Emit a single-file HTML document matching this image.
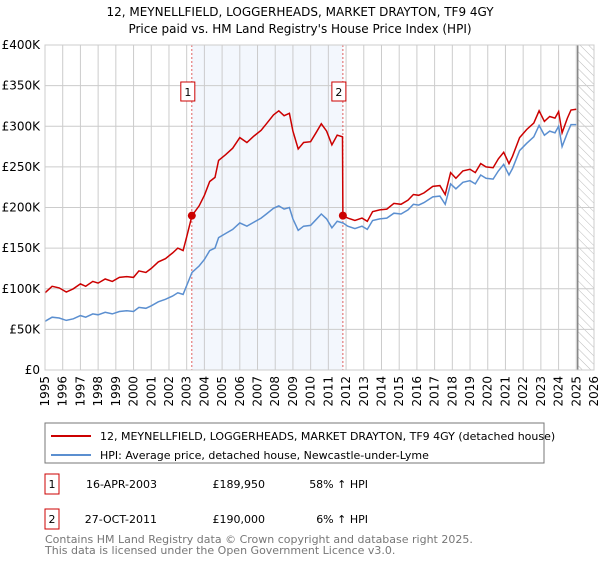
<!DOCTYPE html>
<html><head><meta charset="utf-8"><style>
body{margin:0;background:#fff;font-family:"Liberation Sans","DejaVu Sans",sans-serif;}
svg text{font-family:"DejaVu Sans","Liberation Sans",sans-serif;}
</style></head><body>
<svg id="chart" width="600" height="560" viewBox="0 0 600 560" xmlns="http://www.w3.org/2000/svg">
<defs><pattern id="hatch" width="6" height="6" patternUnits="userSpaceOnUse" patternTransform="rotate(-45)"><line x1="0" y1="0" x2="0" y2="6" stroke="#bbb" stroke-width="1"/></pattern></defs>
<text x="300" y="16" text-anchor="middle" font-size="12" fill="#000">12, MEYNELLFIELD, LOGGERHEADS, MARKET DRAYTON, TF9 4GY</text>
<text x="300" y="33" text-anchor="middle" font-size="12" fill="#000">Price paid vs. HM Land Registry's House Price Index (HPI)</text>
<g id="plot"></g>
<rect x="45" y="423" width="499" height="40" fill="#fff" stroke="#777"/>
<line x1="51" y1="436" x2="91" y2="436" stroke="#cc0000" stroke-width="2"/>
<text x="100" y="440" font-size="11">12, MEYNELLFIELD, LOGGERHEADS, MARKET DRAYTON, TF9 4GY (detached house)</text>
<line x1="51" y1="455" x2="91" y2="455" stroke="#5b8fd0" stroke-width="2"/>
<text x="100" y="459" font-size="11">HPI: Average price, detached house, Newcastle-under-Lyme</text>
<rect x="45" y="474" width="14" height="20" fill="#fff" stroke="#cc0000"/>
<text x="52" y="488" font-size="11" text-anchor="middle">1</text>
<text x="157" y="488" font-size="11" text-anchor="end">16-APR-2003</text>
<text x="265" y="488" font-size="11" text-anchor="end">£189,950</text>
<text x="368" y="488" font-size="11" text-anchor="end">58% ↑ HPI</text>
<rect x="45" y="509" width="14" height="20" fill="#fff" stroke="#cc0000"/>
<text x="52" y="523" font-size="11" text-anchor="middle">2</text>
<text x="157" y="523" font-size="11" text-anchor="end">27-OCT-2011</text>
<text x="265" y="523" font-size="11" text-anchor="end">£190,000</text>
<text x="368" y="523" font-size="11" text-anchor="end">6% ↑ HPI</text>
<text x="45" y="543" font-size="11" fill="#777">Contains HM Land Registry data © Crown copyright and database right 2025.</text>
<text x="45" y="554" font-size="11" fill="#777">This data is licensed under the Open Government Licence v3.0.</text>
</svg>
<script>
const dates=[1995.0,1995.4,1995.8,1996.2,1996.6,1997.0,1997.3,1997.7,1998.0,1998.4,1998.8,1999.2,1999.6,2000.0,2000.3,2000.7,2001.0,2001.4,2001.8,2002.2,2002.5,2002.8,2003.0,2003.3,2003.7,2004.0,2004.3,2004.6,2004.8,2005.2,2005.6,2006.0,2006.4,2006.8,2007.2,2007.5,2007.9,2008.2,2008.5,2008.8,2009.0,2009.3,2009.6,2010.0,2010.3,2010.6,2010.9,2011.2,2011.5,2011.8,2011.82,2012.1,2012.5,2012.9,2013.2,2013.5,2013.9,2014.3,2014.7,2015.1,2015.5,2015.8,2016.1,2016.4,2016.9,2017.3,2017.6,2017.9,2018.2,2018.6,2019.0,2019.3,2019.6,2019.9,2020.3,2020.6,2020.9,2021.2,2021.4,2021.8,2022.2,2022.6,2022.9,2023.2,2023.5,2023.8,2024.0,2024.2,2024.5,2024.7,2025.0];
const hpiValues=[60,65,64,61,63,67,65,69,68,71,69,72,73,72,77,76,79,84,87,91,95,93,104,120,128,136,147,150,163,168,173,181,177,182,187,192,199,202,198,200,186,172,177,178,185,192,186,175,183,181,181,177,174,177,173,184,186,187,193,192,197,204,203,206,213,214,204,229,223,231,233,229,240,236,235,245,253,240,248,270,279,287,301,289,294,292,300,275,292,302,302];
const propertyValues=[95,103,101,96,100,106,103,109,107,112,109,114,115,114,122,120,125,133,137,144,150,147,164,190,202,215,232,237,258,265,273,286,280,288,295,303,314,319,313,316,294,272,280,281,292,303,294,277,289,287,190,187,184,187,183,195,197,198,205,204,209,216,215,218,226,227,216,243,236,245,247,243,254,250,249,260,268,254,263,286,296,304,319,306,312,310,318,292,310,320,321];
const yTicks=[0,50,100,150,200,250,300,350,400];
const yTickLabels=["£0","£50K","£100K","£150K","£200K","£250K","£300K","£350K","£400K"];
const xTicks=[1995,1996,1997,1998,1999,2000,2001,2002,2003,2004,2005,2006,2007,2008,2009,2010,2011,2012,2013,2014,2015,2016,2017,2018,2019,2020,2021,2022,2023,2024,2025,2026];
const saleDates=[2003.29,2011.82];
const salePrices=[189.95,190];
const saleLabels=["1","2"];
const NS="http://www.w3.org/2000/svg";
const L=45,R=594,T=45,B=370;
const X=v=>L+(v-1995)/(2026-1995)*(R-L);
const Y=v=>B-v/400*(B-T);
const g=document.getElementById('plot');
function mk(tag,attrs,parent){const e=document.createElementNS(NS,tag);for(const k in attrs)e.setAttribute(k,attrs[k]);(parent||g).appendChild(e);return e;}
let e=mk('rect',{x:X(saleDates[0]),y:T,width:X(saleDates[1])-X(saleDates[0]),height:B-T,fill:'#eef3fc',opacity:0.7});


e=mk('rect',{x:X(2025.08),y:T,width:R-X(2025.08),height:B-T,fill:'url(#hatch)'});


yTicks.forEach((t,i)=>{
 e=mk('line',{x1:L,x2:R,y1:Y(t),y2:Y(t),stroke:'#ccc','stroke-width':1});
 
 
 e=mk('text',{x:40,y:Y(t)+4,'text-anchor':'end','font-size':12});
 e.textContent=yTickLabels[i];
 
 
});
xTicks.forEach(t=>{
 e=mk('line',{x1:X(t),x2:X(t),y1:T,y2:B,stroke:'#ccc','stroke-width':1});
 
 
 const tx=X(t)+4,ty=376;
 e=mk('text',{x:tx,y:ty,'text-anchor':'end','font-size':12,transform:'rotate(-90 '+tx+' '+ty+')'});
 e.textContent=t;
 
 
});
e=mk('line',{x1:X(2025.08),x2:X(2025.08),y1:T,y2:B,stroke:'#888','stroke-width':1.5});


saleDates.forEach((d,i)=>{
 e=mk('line',{x1:X(d),x2:X(d),y1:T,y2:B,stroke:'#e06060','stroke-width':1,'stroke-dasharray':'2,2'});
 
 
});
const pts=a=>a.map((v,i)=>X(dates[i]).toFixed(1)+','+Y(v).toFixed(1)).join(' ');
e=mk('polyline',{points:pts(hpiValues),fill:'none',stroke:'#5b8fd0','stroke-width':1.5});


e=mk('polyline',{points:pts(propertyValues),fill:'none',stroke:'#cc0000','stroke-width':1.5});


saleDates.forEach((d,i)=>{
 e=mk('circle',{cx:X(d),cy:Y(salePrices[i]),r:4,fill:'#cc0000'});
 
 
 e=mk('rect',{x:X(d)-11,y:82,width:14,height:19,fill:'#fff',stroke:'#cc0000'});
 
 
 e=mk('text',{x:X(d)-4,y:96,'text-anchor':'middle','font-size':11});
 e.textContent=saleLabels[i];
 
 
});
e=mk('rect',{x:L,y:T,width:R-L,height:B-T,fill:'none',stroke:'#ccc'});


</script>
</body></html>
